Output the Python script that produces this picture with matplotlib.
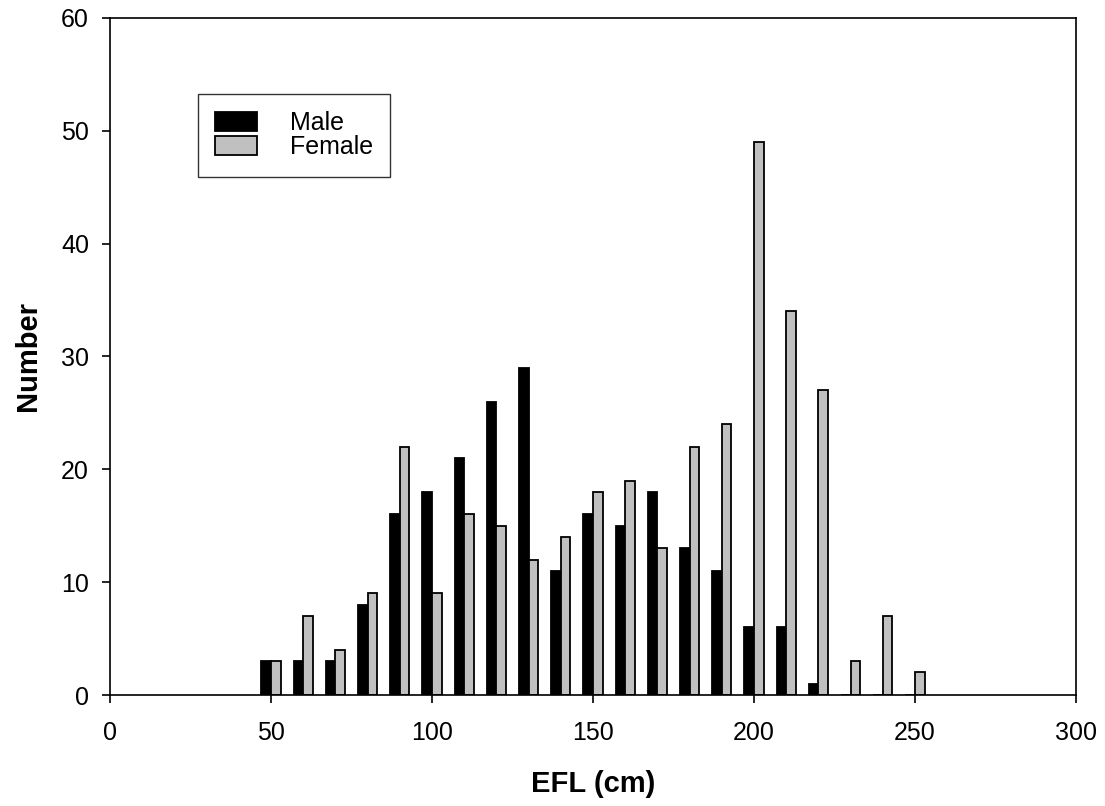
import numpy as np
import matplotlib
matplotlib.use("Agg")
import matplotlib.pyplot as plt

plt.rcParams["font.family"] = ["Liberation Sans", "DejaVu Sans"]

# length classes (cm) and counts
efl = [50, 60, 70, 80, 90, 100, 110, 120, 130, 140, 150,
       160, 170, 180, 190, 200, 210, 220, 230, 240, 250]
male = [3, 3, 3, 8, 16, 18, 21, 26, 29, 11, 16,
        15, 18, 13, 11, 6, 6, 1, 0, 0, 0]
female = [3, 7, 4, 9, 22, 9, 16, 15, 12, 14, 18,
          19, 13, 22, 24, 49, 34, 27, 3, 7, 2]

x = np.array(efl, dtype=float)
bar_w = 3.0

fig = plt.figure(figsize=(11.05, 8.06), dpi=100)
ax = fig.add_axes([0.0995, 0.1377, 0.8743, 0.84])

ax.bar(x - bar_w / 2, male, width=bar_w, color="black",
       edgecolor="black", linewidth=1.3, label="Male")
ax.bar(x + bar_w / 2, female, width=bar_w, color="#c0c0c0",
       edgecolor="black", linewidth=1.3, label="Female")

ax.set_xlim(0, 300)
ax.set_ylim(0, 60)
ax.set_xticks(range(0, 301, 50))
ax.set_yticks(range(0, 61, 10))
ax.tick_params(axis="both", direction="out", length=6, width=1.2,
               labelsize=18, top=False, right=False)
ax.tick_params(axis="x", pad=13)
ax.tick_params(axis="y", pad=9)
for sp in ax.spines.values():
    sp.set_linewidth(1.2)

ax.set_xlabel("EFL (cm)", fontsize=21, fontweight="bold", labelpad=18)
ax.set_ylabel("Number", fontsize=21, fontweight="bold", labelpad=14)

leg = ax.legend(loc="upper left", bbox_to_anchor=(0.091, 0.888),
                borderaxespad=0, fontsize=18, frameon=True, fancybox=False,
                handlelength=1.68, handleheight=0.8, handletextpad=1.3,
                labelspacing=0.0, borderpad=0.7)
leg.get_frame().set_edgecolor("black")
leg.get_frame().set_linewidth(1.0)

fig.savefig("out.png", dpi=100)
